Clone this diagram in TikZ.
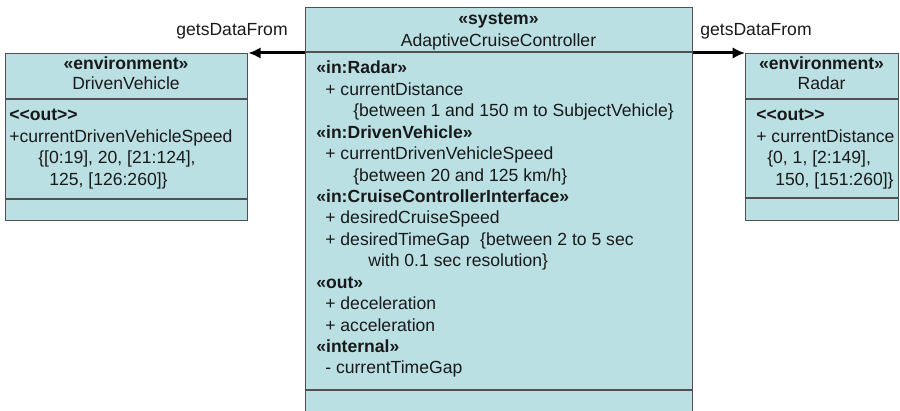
\documentclass[tikz,border=0pt]{standalone}
\usepackage{fontspec}
\setmainfont{Liberation Sans}
\usetikzlibrary{arrows.meta}

\definecolor{classfill}{RGB}{186,224,228}
\definecolor{classline}{RGB}{80,80,80}
\definecolor{txt}{RGB}{25,25,25}

\newcommand{\umlfont}{\fontsize{10}{12}\selectfont}

\tikzset{
	classbox/.style={draw=classline, fill=classfill, line width=0.8pt, inner sep=0pt, anchor=north west},
	sep/.style={draw=classline, line width=0.8pt},
	attr/.style={anchor=base west, inner sep=0pt, text=txt, font=\umlfont},
	head/.style={anchor=base, inner sep=0pt, text=txt, font=\umlfont},
	getsdata/.style={line width=1.7pt, -{Latex[length=7pt,width=6.5pt]}}
}

\begin{document}
\begin{tikzpicture}[x=0.02cm, y=-0.02cm]
	
	\useasboundingbox (0,0) rectangle (900,411);
	\clip (0,0) rectangle (900,411);
	
	% class boxes
	\node[classbox, minimum width=4.84cm, minimum height=3.34cm] (driven) at (5,53) {};
	\node[classbox, minimum width=7.74cm, minimum height=8.4cm] (acc) at (305,7) {};
	\node[classbox, minimum width=3.06cm, minimum height=3.34cm] (radar) at (745,53) {};
	
	\draw[sep] (5,99) -- (247,99);
	\draw[sep] (5,199) -- (247,199);
	\draw[sep] (305,52) -- (692,52);
	\draw[sep] (305,390) -- (692,390);
	\draw[sep] (745,99) -- (898,99);
	\draw[sep] (745,198) -- (898,198);
	
	% associations
	\draw[getsdata] (acc.west |- driven.north) -- (driven.north east);
	\draw[getsdata] (acc.east |- radar.north) -- (radar.north west);
	\node[head] (getsL) at (232,36) {getsDataFrom};
	\node[head] (getsR) at (756,36) {getsDataFrom};
	
	% DrivenVehicle
	\node[head] (drivenSt) at (126,70) {\bfseries «environment»};
	\node[head] (drivenNm) at (126,90) {DrivenVehicle};
	\node[attr] (drivenOut) at (9,121) {\bfseries <{}<out>{}>};
	\node[attr] (drivenA1) at (9,142.5) {+currentDrivenVehicleSpeed};
	\node[attr] (drivenA2) at (38,164) {\{[0:19], 20, [21:124],};
	\node[attr] (drivenA3) at (49,185.5) {125, [126:260]\}};
	
	% AdaptiveCruiseController
	\node[head] (accSt) at (498.5,24.5) {\bfseries «system»};
	\node[head] (accNm) at (498.5,46.5) {AdaptiveCruiseController};
	\node[attr] (accIn1) at (316,74) {\bfseries «in:Radar»};
	\node[attr] (accA1) at (325,95.4) {+ currentDistance};
	\node[attr] (accA1c) at (353,116.9) {\{between 1 and 150 m to SubjectVehicle\}};
	\node[attr] (accIn2) at (316,138.3) {\bfseries «in:DrivenVehicle»};
	\node[attr] (accA2) at (325,159.7) {+ currentDrivenVehicleSpeed};
	\node[attr] (accA2c) at (353,181.1) {\{between 20 and 125 km/h\}};
	\node[attr] (accIn3) at (316,202.6) {\bfseries «in:CruiseControllerInterface»};
	\node[attr] (accA3) at (325,224) {+ desiredCruiseSpeed};
	\node[attr] (accA4) at (325,245.4) {+ desiredTimeGap\hspace{0.6em}\{between 2 to 5 sec};
	\node[attr] (accA4c) at (368,266.9) {with 0.1 sec resolution\}};
	\node[attr] (accOut) at (316,288.3) {\bfseries «out»};
	\node[attr] (accA5) at (325,309.7) {+ deceleration};
	\node[attr] (accA6) at (325,331.1) {+ acceleration};
	\node[attr] (accInt) at (316,352.6) {\bfseries «internal»};
	\node[attr] (accA7) at (325,374) {- currentTimeGap};
	
	% Radar
	\node[head] (radarSt) at (821.5,70) {\bfseries «environment»};
	\node[head] (radarNm) at (821.5,90) {Radar};
	\node[attr] (radarOut) at (756,121) {\bfseries <{}<out>{}>};
	\node[attr] (radarA1) at (756,142.5) {+ currentDistance};
	\node[attr] (radarA2) at (767,164) {\{0, 1, [2:149],};
	\node[attr] (radarA3) at (775,185.5) {150, [151:260]\}};
	
\end{tikzpicture}
\end{document}
